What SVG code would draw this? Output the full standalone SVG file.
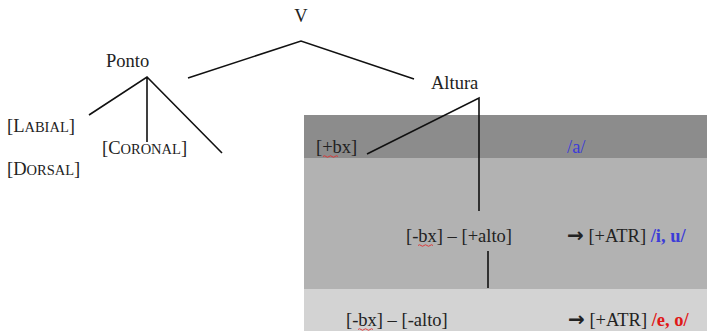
<svg xmlns="http://www.w3.org/2000/svg" width="707" height="331" viewBox="0 0 707 331">
<style>
text{font-family:"Liberation Serif","Times New Roman",serif;font-size:18.5px;fill:#222}
.sm{font-size:14.5px}
.blue{fill:#3c3cd8}
.red{fill:#e01818;font-weight:bold}
.b{font-weight:bold}
.arr{font-family:"DejaVu Sans",sans-serif;font-weight:bold;font-size:20px}
.ln{stroke:#111;stroke-width:1.6;fill:none}
.sq{stroke:#e03030;stroke-width:0.9;fill:none}
</style>
<rect width="707" height="331" fill="#fff"/>
<rect x="304" y="115" width="403" height="43" fill="#8c8c8c"/>
<rect x="304" y="158" width="403" height="131" fill="#b2b2b2"/>
<rect x="304" y="289" width="403" height="42" fill="#d3d3d3"/>
<g id="connectors">
<path class="ln" d="M188,78 L301,41 L414,79"/>
<path class="ln" d="M89,115 L147,77 L222,153 M147,77 L147,142"/>
<path class="ln" d="M367,154 L479,98 L479,211"/>
<path class="ln" d="M488,251 L488,288" stroke-width="2"/>
</g>
<g id="V"><text x="301" y="22" text-anchor="middle">V</text></g>
<g id="Ponto"><text x="106" y="67">Ponto</text></g>
<g id="Altura"><text x="431" y="89">Altura</text></g>
<g id="Labial"><text x="7" y="132">[L<tspan class="sm">ABIAL</tspan>]</text></g>
<g id="Coronal"><text x="102" y="154">[C<tspan class="sm">ORONAL</tspan>]</text></g>
<g id="Dorsal"><text x="7" y="175">[D<tspan class="sm">ORSAL</tspan>]</text></g>
<g id="bx_plus"><text x="316" y="153">[+bx]</text><path class="sq" d="M323,156.5 q1.5,-1.5 3,0 t3,0 t3,0 t3,0 t3,0"/></g>
<g id="a_vowel"><text class="blue" x="567" y="153">/a/</text></g>
<g id="bx_alto_plus"><text x="406" y="242">[-bx] – [+alto]</text><path class="sq" d="M418,245.5 q1.5,-1.5 3,0 t3,0 t3,0 t3,0 t3,0"/></g>
<g id="atr_iu"><text x="567" y="242"><tspan class="arr">→</tspan> [+ATR] <tspan class="blue b">/i, u/</tspan></text></g>
<g id="bx_alto_minus"><text x="346" y="326">[-bx] – [-alto]</text><path class="sq" d="M358,329.5 q1.5,-1.5 3,0 t3,0 t3,0 t3,0 t3,0"/></g>
<g id="atr_eo"><text x="568" y="326"><tspan class="arr">→</tspan> [+ATR] <tspan class="red">/e, o/</tspan></text></g>
</svg>
